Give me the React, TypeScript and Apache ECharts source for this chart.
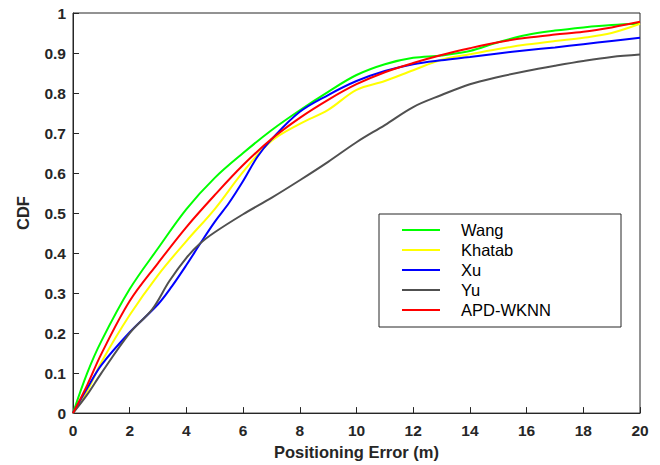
import React, { useEffect, useRef } from "react";
import * as echarts from "echarts";

const xs = [0, 0.5, 1, 2, 3, 4, 5, 6, 7, 8, 9, 10, 11, 12, 13, 14, 15, 16, 17, 18, 19, 20];
const wang = [0, 0.1, 0.18, 0.31, 0.412, 0.51, 0.588, 0.65, 0.707, 0.757, 0.803, 0.845, 0.872, 0.888, 0.894, 0.905, 0.927, 0.945, 0.956, 0.964, 0.97, 0.973];
const khatab = [0, 0.055, 0.127, 0.245, 0.345, 0.43, 0.51, 0.603, 0.68, 0.723, 0.758, 0.808, 0.83, 0.857, 0.883, 0.897, 0.91, 0.921, 0.93, 0.938, 0.95, 0.973];
const xuX = [0, 0.5, 1, 2, 3, 3.5, 4, 4.5, 5, 5.5, 6, 6.5, 7, 8, 9, 10, 11, 12, 13, 14, 15, 16, 17, 18, 19, 20];
const xu = [0, 0.062, 0.12, 0.202, 0.272, 0.318, 0.37, 0.425, 0.478, 0.525, 0.58, 0.64, 0.684, 0.753, 0.795, 0.83, 0.855, 0.872, 0.882, 0.89, 0.899, 0.907, 0.914, 0.922, 0.93, 0.938];
const yuX = [0, 0.5, 1, 2, 2.8, 3.4, 4, 4.5, 5, 6, 7, 8, 9, 10, 11, 12, 13, 14, 15, 16, 17, 18, 19, 20];
const yu = [0, 0.046, 0.1, 0.2, 0.26, 0.33, 0.388, 0.425, 0.452, 0.497, 0.538, 0.582, 0.628, 0.677, 0.72, 0.765, 0.795, 0.822, 0.84, 0.855, 0.868, 0.88, 0.89, 0.896];
const apd = [0, 0.07, 0.148, 0.28, 0.375, 0.465, 0.545, 0.62, 0.685, 0.738, 0.783, 0.822, 0.852, 0.875, 0.895, 0.912, 0.927, 0.938, 0.946, 0.953, 0.964, 0.978];

const names = ["Wang", "Khatab", "Xu", "Yu", "APD-WKNN"];
const colors = ["#00ff00", "#ffff00", "#0000ff", "#505050", "#ff0000"];

const pairs = (x: number[], y: number[]) => x.map((v, i) => [v, y[i]]);

export default function App() {
  const ref = useRef<HTMLDivElement>(null);
  useEffect(() => {
    if (!ref.current) return;
    const chart = echarts.init(ref.current, undefined, { renderer: "svg" });
    const datasets = [
      pairs(xs, wang),
      pairs(xs, khatab),
      pairs(xuX, xu),
      pairs(yuX, yu),
      pairs(xs, apd),
    ];
    const font = "Arial, 'Liberation Sans', sans-serif";
    chart.setOption({
      animation: false,
      grid: {
        left: 73,
        right: 20,
        top: 13,
        bottom: 49,
        show: true,
        borderColor: "#262626",
        borderWidth: 1,
      },
      legend: {
        orient: "vertical",
        left: 379,
        top: 214,
        data: names,
        icon: "rect",
        itemWidth: 38,
        itemHeight: 2,
        itemGap: 0,
        padding: [6, 20, 7, 23],
        borderColor: "#262626",
        borderWidth: 1,
        backgroundColor: "#ffffff",
        textStyle: {
          fontFamily: font,
          fontSize: 16.5,
          color: "#000",
          lineHeight: 20,
          padding: [0, 0, 0, 16],
          width: 140,
        },
      },
      xAxis: {
        type: "value",
        min: 0,
        max: 20,
        interval: 2,
        name: "Positioning Error (m)",
        nameLocation: "middle",
        nameGap: 28,
        nameTextStyle: { fontFamily: font, fontWeight: "bold", fontSize: 16.5, color: "#262626" },
        axisLine: { lineStyle: { color: "#262626", width: 1 } },
        axisTick: { inside: true, length: 6, lineStyle: { color: "#262626" } },
        axisLabel: { fontFamily: font, fontWeight: "bold", fontSize: 15.5, color: "#262626", margin: 9 },
        splitLine: { show: false },
      },
      yAxis: {
        type: "value",
        min: 0,
        max: 1,
        interval: 0.1,
        name: "CDF",
        nameLocation: "middle",
        nameGap: 42,
        nameTextStyle: { fontFamily: font, fontWeight: "bold", fontSize: 16.5, color: "#262626" },
        axisLine: { show: true, lineStyle: { color: "#262626", width: 1 } },
        axisTick: { show: true, inside: true, length: 6, lineStyle: { color: "#262626" } },
        axisLabel: {
          fontFamily: font,
          fontWeight: "bold",
          fontSize: 15.5,
          color: "#262626",
          margin: 7,
          formatter: (v: number) => String(Math.round(v * 10) / 10),
        },
        splitLine: { show: false },
      },
      series: names.map((n, i) => ({
        name: n,
        type: "line",
        data: datasets[i],
        smooth: 0.35,
        symbol: "none",
        lineStyle: { color: colors[i], width: 2 },
        itemStyle: { color: colors[i] },
      })),
    });
    return () => chart.dispose();
  }, []);
  return (
    <div
      ref={ref}
      style={{ position: "fixed", left: 0, top: 0, width: 660, height: 465, background: "#fff" }}
    />
  );
}
